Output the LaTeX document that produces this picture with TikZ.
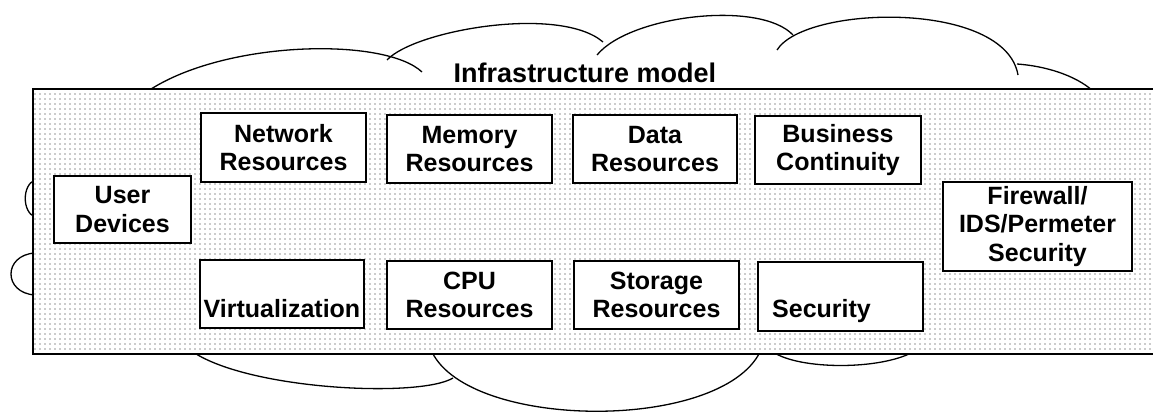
\documentclass[tikz,border=0pt]{standalone}
\usepackage{fontspec}
\setmainfont{Liberation Sans}
\usetikzlibrary{patterns.meta}

\begin{document}
\begin{tikzpicture}[x=1pt, y=-1pt,
    lobe/.style={line width=1.3pt},
    res/.style={draw, fill=white, line width=1.8pt, align=center, inner sep=0pt,
      font=\fontsize{25}{28.5}\selectfont\bfseries},
    infra/.style={draw, line width=1.3pt, preaction={fill=white},
      pattern={Dots[radius=.55pt, distance=5pt]}, pattern color=black!85}]
  \useasboundingbox (0,0) rectangle (1153,414);

  % cloud lobes, top row
  \draw[lobe] (148,91) .. controls (225,40) and (385,37) .. (422,72);
  \draw[lobe] (387,60) .. controls (415,30) and (560,5) .. (603,42);
  \draw[lobe] (597,55) .. controls (630,15) and (760,0) .. (793,35);
  \draw[lobe] (777,50) .. controls (805,5) and (1005,0) .. (1018,75);
  \draw[lobe] (1017,64) .. controls (1045,66) and (1075,75) .. (1093,91);
  % left side
  \draw[lobe] (35,180) .. controls (22,185) and (22,212) .. (35,217);
  \draw[lobe] (35,253) .. controls (3,255) and (3,293) .. (35,295);
  % bottom row
  \draw[lobe] (193,352) .. controls (250,390) and (420,398) .. (453,378);
  \draw[lobe] (432,352) .. controls (470,430) and (720,432) .. (760,352);
  \draw[lobe] (773,352) .. controls (800,370) and (880,370) .. (913,352);

  % dotted infrastructure band
  \draw[infra] (33,89) rectangle (1158,354);
  \node[anchor=base, font=\fontsize{27}{30}\selectfont\bfseries] (title) at (585,83) {Infrastructure model};

  % resource boxes
  \node[res, minimum width=137pt, minimum height=67pt] (user) at (122.5,209.5) {User\\Devices};
  \node[res, minimum width=165pt, minimum height=69pt] (net) at (283.5,147.5) {Network\\Resources};
  \node[res, minimum width=165pt, minimum height=68pt] (mem) at (469.5,149) {Memory\\Resources};
  \node[res, minimum width=164pt, minimum height=68pt] (data) at (655,149) {Data\\Resources};
  \node[res, minimum width=166pt, minimum height=68pt] (bc) at (838,150) {Business\\Continuity};
  \node[res, minimum width=164pt, minimum height=68pt] (virt) at (282,294) {\mbox{}\\[18pt]Virtualization};
  \node[res, minimum width=165pt, minimum height=68pt] (cpu) at (469.5,295) {CPU\\Resources};
  \node[res, minimum width=165pt, minimum height=68pt] (stor) at (656.5,295) {Storage\\Resources};
  \node[res, minimum width=165pt, minimum height=69pt] (sec) at (840.5,296.5) {\mbox{}\\[18pt]Security\hspace*{38pt}};
  \node[res, minimum width=189pt, minimum height=89pt] (fw) at (1037.5,226.5) {Firewall/\\IDS/Permeter\\Security};
\end{tikzpicture}
\end{document}
